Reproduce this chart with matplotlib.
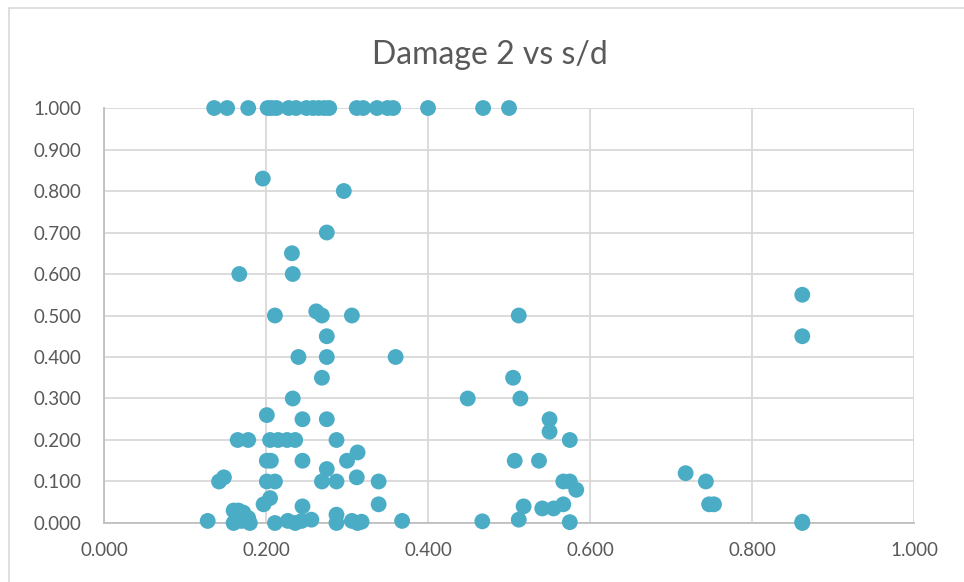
import matplotlib
matplotlib.use("Agg")
import matplotlib.pyplot as plt
from matplotlib.patches import Rectangle

# s/d values and damage values
sd_top = [0.136, 0.152, 0.178, 0.202, 0.207, 0.213, 0.228, 0.237, 0.250, 0.258,
          0.265, 0.272, 0.278, 0.312, 0.320, 0.337, 0.350, 0.357, 0.400, 0.468, 0.500]
dmg_top = [1.0] * len(sd_top)

sd_mid = [0.196, 0.296, 0.275, 0.232, 0.167, 0.233, 0.211, 0.262, 0.269, 0.306,
          0.512, 0.275, 0.862, 0.862, 0.240, 0.275, 0.360, 0.269, 0.505, 0.233,
          0.449, 0.514, 0.201, 0.245, 0.275, 0.550, 0.550, 0.575]
dmg_mid = [0.83, 0.80, 0.70, 0.65, 0.60, 0.60, 0.50, 0.51, 0.50, 0.50,
           0.50, 0.45, 0.55, 0.45, 0.40, 0.40, 0.40, 0.35, 0.35, 0.30,
           0.30, 0.30, 0.26, 0.25, 0.25, 0.25, 0.22, 0.20]

sd_low = [0.165, 0.178, 0.205, 0.215, 0.226, 0.236, 0.287,
          0.201, 0.206, 0.245, 0.300, 0.313, 0.507, 0.537,
          0.275, 0.718, 0.142, 0.148, 0.201, 0.211, 0.269, 0.287, 0.312, 0.339,
          0.567, 0.575, 0.743, 0.583,
          0.205, 0.197, 0.245, 0.339, 0.518, 0.541, 0.555, 0.567, 0.747, 0.753,
          0.160, 0.166, 0.172, 0.178, 0.287]
dmg_low = [0.20, 0.20, 0.20, 0.20, 0.20, 0.20, 0.20,
           0.15, 0.15, 0.15, 0.15, 0.17, 0.15, 0.15,
           0.13, 0.12, 0.10, 0.11, 0.10, 0.10, 0.10, 0.10, 0.11, 0.10,
           0.10, 0.10, 0.10, 0.08,
           0.06, 0.045, 0.04, 0.045, 0.04, 0.035, 0.035, 0.045, 0.045, 0.045,
           0.03, 0.03, 0.025, 0.012, 0.02]

sd_zero = [0.128, 0.160, 0.170, 0.180, 0.211, 0.227, 0.236, 0.244, 0.256, 0.287,
           0.306, 0.313, 0.318, 0.368, 0.467, 0.512, 0.575, 0.862, 0.862]
dmg_zero = [0.005, 0.0, 0.005, 0.0, 0.0, 0.005, 0.0, 0.005, 0.008, 0.0,
            0.005, 0.0, 0.003, 0.005, 0.004, 0.008, 0.002, 0.003, 0.0]

x = sd_top + sd_mid + sd_low + sd_zero
y = dmg_top + dmg_mid + dmg_low + dmg_zero

ticks = [0.0, 0.2, 0.4, 0.6, 0.8, 1.0]
yticks = [i / 10 for i in range(11)]

text_color = '#595959'
plt.rcParams['font.family'] = ['Lato', 'DejaVu Sans']

fig = plt.figure(figsize=(9.64, 5.82), dpi=100)
fig.patches.append(Rectangle((0.009, -0.01), 1.1, 0.996, transform=fig.transFigure,
                             fill=False, edgecolor='#D9D9D9', linewidth=1.2))

ax = fig.add_axes([0.1079, 0.1014, 0.8403, 0.7130])
ax.scatter(x, y, s=130, color='#4BACC6', edgecolors='none', zorder=3, clip_on=False)

ax.set_xlim(0, 1.0)
ax.set_ylim(0, 1.0)
ax.set_xticks(ticks)
ax.set_yticks(yticks)
ax.set_xticklabels([f'{t:.3f}' for t in ticks])
ax.set_yticklabels([f'{t:.3f}' for t in yticks])
ax.tick_params(length=0, labelsize=13.5, labelcolor=text_color)
ax.tick_params(axis='y', pad=16)
ax.tick_params(axis='x', pad=14)

ax.grid(True, color='#D9D9D9', linewidth=1.3)
ax.set_axisbelow(True)
for side in ['top', 'right']:
    ax.spines[side].set_visible(False)
for side in ['left', 'bottom']:
    ax.spines[side].set_color('#BFBFBF')
    ax.spines[side].set_linewidth(1.3)

fig.text(0.508, 1 - 55 / 582, 'Damage 2 vs s/d', ha='center', va='center',
         fontsize=23, color=text_color)

fig.savefig('out.png', dpi=100)
